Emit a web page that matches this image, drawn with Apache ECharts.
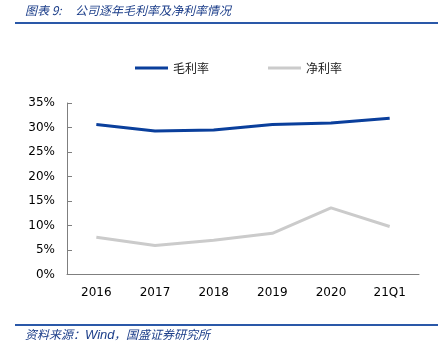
<!DOCTYPE html>
<html>
<head>
<meta charset="utf-8">
<script src="https://cdn.jsdelivr.net/npm/echarts@6/dist/echarts.min.js"></script>
<style>
html,body{margin:0;padding:0;background:#fff;}
#c{width:444px;height:355px;}
</style>
</head>
<body>
<div id="c"></div>
<script>
var categories = ['2016', '2017', '2018', '2019', '2020', '21Q1'];
var grossMargin = [30.6, 29.3, 29.5, 30.6, 30.9, 31.9];
var netMargin = [7.6, 5.9, 7.0, 8.4, 13.6, 9.8];
var seriesNames = ['毛利率', '净利率'];
var yTicks = { min: 0, max: 35, interval: 5 };

var chart = echarts.init(document.getElementById('c'), null, { renderer: 'canvas' });
var cjk = '"Noto Sans CJK SC", sans-serif';
chart.setOption({
  animation: false,
  backgroundColor: '#fff',
  graphic: [
    { type: 'text', left: 25, top: 4, style: { text: '图表 9:', font: 'italic 12px ' + cjk, fill: '#1d3f8a' } },
    { type: 'text', left: 75, top: 4, style: { text: '公司逐年毛利率及净利率情况', font: 'italic 12px ' + cjk, fill: '#1d3f8a' } },
    { type: 'rect', shape: { x: 15, y: 22, width: 423, height: 2 }, style: { fill: '#2a58a8' } },
    { type: 'rect', shape: { x: 15, y: 324, width: 423, height: 2 }, style: { fill: '#2a58a8' } },
    { type: 'text', left: 25, top: 328, style: { text: '资料来源：', font: 'italic 12px ' + cjk, fill: '#1d3f8a' } },
    { type: 'text', left: 85, top: 329, style: { text: 'Wind', font: 'italic 13px "Liberation Sans", sans-serif', fill: '#1d3f8a' } },
    { type: 'text', left: 114, top: 328, style: { text: '，国盛证券研究所', font: 'italic 12px ' + cjk, fill: '#1d3f8a' } }
  ],
  legend: {
    top: 57,
    left: 130,
    itemGap: 59,
    itemWidth: 33,
    itemHeight: 3,
    icon: 'rect',
    textStyle: { fontFamily: cjk, fontSize: 12, color: '#222' },
    data: seriesNames
  },
  grid: { left: 67, right: 25, top: 103, bottom: 80.5 },
  xAxis: {
    type: 'category',
    data: categories,
    boundaryGap: true,
    axisLine: { lineStyle: { color: '#7f7f7f', width: 1 } },
    axisTick: { inside: true, length: 5, lineStyle: { color: '#7f7f7f' } },
    axisLabel: { margin: 12, color: '#000', fontFamily: 'DejaVu Sans', fontSize: 12 }
  },
  yAxis: {
    type: 'value',
    min: yTicks.min,
    max: yTicks.max,
    interval: yTicks.interval,
    splitLine: { show: false },
    axisLine: { show: true, lineStyle: { color: '#7f7f7f', width: 1 } },
    axisTick: { show: true, inside: true, length: 5, lineStyle: { color: '#7f7f7f' } },
    axisLabel: { margin: 12, color: '#000', fontFamily: 'DejaVu Sans', fontSize: 12, formatter: '{value}%' }
  },
  series: [
    { name: seriesNames[0], type: 'line', data: grossMargin, symbol: 'none', lineStyle: { color: '#0a3f9c', width: 3 }, itemStyle: { color: '#0a3f9c' } },
    { name: seriesNames[1], type: 'line', data: netMargin, symbol: 'none', lineStyle: { color: '#cbcbcb', width: 3 }, itemStyle: { color: '#cbcbcb' } }
  ]
});
</script>
</body>
</html>
